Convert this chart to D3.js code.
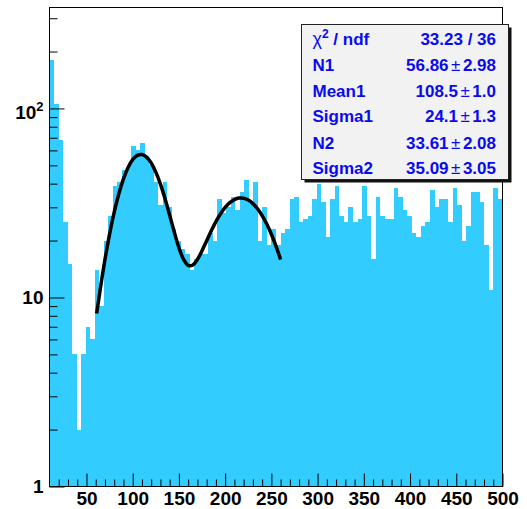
<!DOCTYPE html>
<html><head><meta charset="utf-8">
<script src="https://cdn.jsdelivr.net/npm/d3@7"></script>
<style>
body{margin:0;background:#fff}
svg{display:block}
text{font-family:"Liberation Sans",Arial,Helvetica,sans-serif;font-weight:bold}
</style>
</head><body>
<svg id="c" width="527" height="509"></svg>
<script>
// ---------- data ----------
const xMin = 10, xMax = 500, nBins = 100;
const counts = [
 180,106,68,25,15,5,2,5,7,6,
 14,9,20,27,39,41,47,50,63,60,
 66,56,50,41,31,41,30,23,20,18,
 17,14,16,17,17,22,20,33,28,30,
 34,29,36,42,32,41,20,30,19,23,
 19,22,23,33,34,25,26,27,33,40,
 32,21,33,39,27,25,30,25,26,39,
 27,16,34,27,26,26,38,34,29,27,
 22,21,24,25,37,30,33,33,25,38,
 31,20,24,36,36,32,19,11,38,33
];
const fitX = [61,65,70,75,80,85,90,95,100,105,110,115,120,125,130,135,140,145,150,155,
              160,165,170,175,180,185,190,195,200,205,210,215,220,225,230,235,240,245,250,255,260];
const fitY = [8.22,11.16,15.88,21.65,28.27,35.37,42.40,48.68,53.56,56.47,57.07,55.32,51.48,46.06,
              39.75,33.25,27.23,22.16,18.34,15.90,14.78,14.85,15.90,17.68,19.97,22.55,25.18,27.70,
              29.93,31.72,32.96,33.56,33.49,32.75,31.38,29.47,27.11,24.45,21.60,18.70,15.86];
const xTickValues = [50,100,150,200,250,300,350,400,450,500];
const xTickLabels = ["50","100","150","200","250","300","350","400","450","500"];
const yTickValues = [1,10,100];
const yTickLabels = ["1","10","10^2"];
const statLabels = ["χ^2 / ndf","N1","Mean1","Sigma1","N2","Sigma2"];
const statValues = ["33.23 / 36","56.86 ± 2.98","108.5 ± 1.0","24.1 ± 1.3","33.61 ± 2.08","35.09 ± 3.05"];

// ---------- layout ----------
const svg = d3.select("#c");
svg.append("rect").attr("width",527).attr("height",509).attr("fill","#fff");
const L = 49.5, R = 502.5, T = 7.5, B = 486.5;
const x = d3.scaleLinear().domain([xMin, xMax]).range([L, R]);
const y = d3.scaleLog().domain([1, 342]).range([B, T]);

// bars
const binW = (xMax - xMin) / nBins;
const bins = counts.map((c,i)=>({x0:xMin+i*binW, x1:xMin+(i+1)*binW, c}));
svg.append("g").selectAll("rect").data(bins.filter(d=>d.c>0)).join("rect")
  .attr("x", d=>x(d.x0))
  .attr("width", d=>x(d.x1)-x(d.x0))
  .attr("y", d=>y(d.c))
  .attr("height", d=>y(1)-y(d.c))
  .attr("fill","#33ccff")
  .attr("shape-rendering","crispEdges");

// fit curve
const line = d3.line().x(d=>x(d[0])).y(d=>y(d[1])).curve(d3.curveCatmullRom);
svg.append("path").datum(fitX.map((v,i)=>[v,fitY[i]]))
  .attr("d", line).attr("fill","none").attr("stroke","#000")
  .attr("stroke-width",3.5).attr("stroke-linejoin","round");

// x axis
const gx = svg.append("g").attr("transform",`translate(0,${B})`);
gx.call(d3.axisBottom(x).tickValues(xTickValues).tickSize(-13).tickSizeOuter(0).tickPadding(5)
  .tickFormat((d,i)=>xTickLabels[i]));
const xMinor = d3.range(20, 500, 10).filter(v=>!xTickValues.includes(v));
const gxm = svg.append("g").attr("transform",`translate(0,${B})`);
gxm.call(d3.axisBottom(x).tickValues(xMinor).tickSize(-7).tickSizeOuter(0).tickFormat(""));

// y axis
const gy = svg.append("g").attr("transform",`translate(${L},0)`);
gy.call(d3.axisLeft(y).tickValues(yTickValues).tickSize(-15).tickSizeOuter(0).tickPadding(6)
  .tickFormat((d,i)=>yTickLabels[i]));
const yMinor = [2,3,4,5,6,7,8,9,20,30,40,50,60,70,80,90,200,300];
const gym = svg.append("g").attr("transform",`translate(${L},0)`);
gym.call(d3.axisLeft(y).tickValues(yMinor).tickSize(-8).tickSizeOuter(0).tickFormat(""));

[gx,gxm,gy,gym].forEach(g=>{
  g.select(".domain").remove();
  g.attr("font-size",null).attr("font-family",null);
  g.selectAll("line").attr("stroke","#000").attr("stroke-width",1);
  g.selectAll("text").attr("fill","#000").style("font-size","19px");
});
// superscript label
gy.selectAll("text").each(function(){
  const t = d3.select(this), s = t.text();
  if (s.includes("^")) {
    const [base, sup] = s.split("^");
    t.text(null).attr("y", 3.5);
    t.append("tspan").text(base);
    t.append("tspan").text(sup).attr("dy", -8).style("font-size","13px");
  }
});

// frame
svg.append("rect").attr("x",L).attr("y",T).attr("width",R-L).attr("height",B-T)
  .attr("fill","none").attr("stroke","#000").attr("stroke-width",1);

// stats box
const bx = 301.5, by = 24.5, bw = 207, bh = 155;
svg.append("rect").attr("x",bx+3).attr("y",by+3).attr("width",bw).attr("height",bh).attr("fill","#111");
svg.append("rect").attr("x",bx).attr("y",by).attr("width",bw).attr("height",bh)
  .attr("fill","#f2f2f2").attr("stroke","#222").attr("stroke-width",1);
const baselines = [45, 71, 96.5, 122, 148.5, 174];
const blue = "#0a0af0";
statLabels.forEach((lab,i)=>{
  const t = svg.append("text").attr("x",312.5).attr("y",baselines[i]).attr("fill",blue).style("font-size","17px");
  if (lab.includes("^")) {
    const m = lab.match(/^(.)\^(\d)(.*)$/);
    t.append("tspan").text(m[1]).style("font-weight","normal").style("font-size","18px");
    t.append("tspan").text(m[2]).attr("dy",-7).style("font-size","12px");
    t.append("tspan").text(m[3]).attr("dy",7);
  } else t.text(lab);
});
statValues.forEach((val,i)=>{
  const t = svg.append("text").attr("x",496).attr("y",baselines[i]).attr("text-anchor","end")
    .attr("fill",blue).style("font-size","17px");
  if (val.includes("±")) {
    const [a,b] = val.split("±").map(s=>s.trim());
    t.append("tspan").text(a);
    t.append("tspan").text("±").attr("dx",2.5).style("font-weight","normal");
    t.append("tspan").text(b).attr("dx",2.5);
  } else t.text(val);
});
</script>
</body></html>
